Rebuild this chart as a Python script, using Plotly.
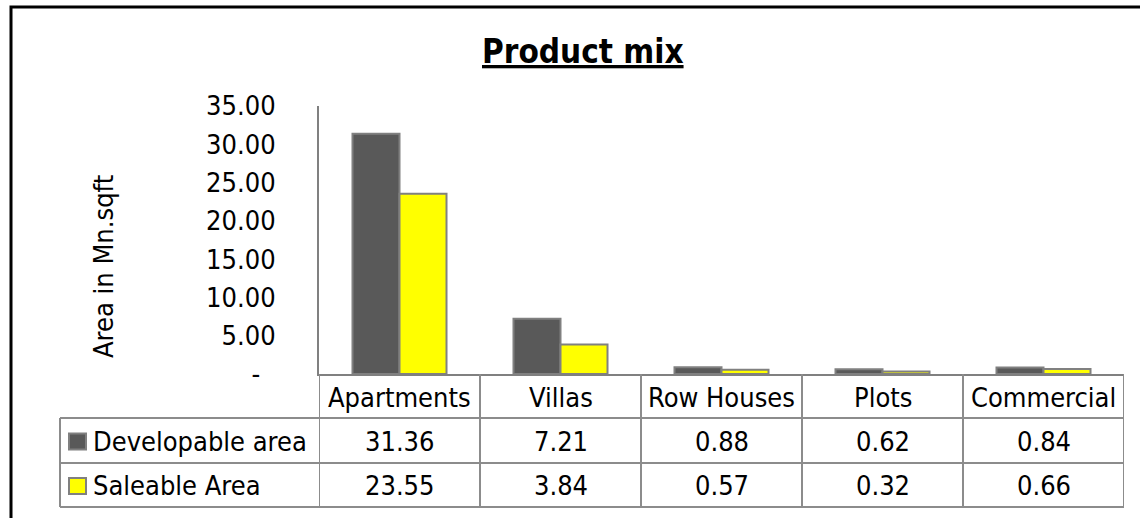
import plotly.graph_objects as go

# Product mix data (area in Mn.sqft)
categories = ["Apartments", "Villas", "Row Houses", "Plots", "Commercial"]
developable = [31.36, 7.21, 0.88, 0.62, 0.84]
saleable = [23.55, 3.84, 0.57, 0.32, 0.66]
series_names = ["Developable area", "Saleable Area"]
y_ticks = [0, 5, 10, 15, 20, 25, 30, 35]
y_tick_text = ["-\u00a0\u00a0", "5.00", "10.00", "15.00", "20.00", "25.00", "30.00", "35.00"]

W, H = 1140, 518
L, R, T, B = 319, 16, 106, 144
PW, PH = W - L - R, H - T - B

FONT = "DejaVu Sans Condensed, DejaVu Sans, sans-serif"
FS = 27
DARK = "#595959"
YELLOW = "#FFFF00"
EDGE = "#808080"
GRID = "#8c8c8c"


def px_x(px):
    return (px - L) / PW


def px_y(py):
    return (H - B - py) / PH


fig = go.Figure()
for name, vals, col in [(series_names[0], developable, DARK), (series_names[1], saleable, YELLOW)]:
    fig.add_trace(go.Bar(
        x=list(range(len(categories))), y=vals, name=name,
        marker=dict(color=col, line=dict(color=EDGE, width=2)),
        showlegend=False, hoverinfo="skip",
    ))

shapes = []
annotations = []


def label(x, y, text, xref="paper", xanchor="center", size=FS, angle=0):
    annotations.append(dict(x=x, y=y, xref=xref, yref="paper", text=text,
                            xanchor=xanchor, yanchor="middle", textangle=angle,
                            showarrow=False,
                            font=dict(family=FONT, size=size, color="black")))


# data table rows (pixel rows below the axis)
row_top = [374, 418, 463]
row_bot = [418, 463, 507]
legend_left = 60

# horizontal rules
for py in [418, 463, 507]:
    shapes.append(dict(type="line", xref="paper", yref="paper",
                       x0=px_x(legend_left), x1=1, y0=px_y(py), y1=px_y(py),
                       line=dict(color=GRID, width=2)))
# vertical rules between category columns
for i in range(len(categories) + 1):
    shapes.append(dict(type="line", xref="x", yref="paper",
                       x0=i - 0.5, x1=i - 0.5, y0=px_y(374), y1=px_y(507),
                       line=dict(color=GRID, width=2)))
# legend column left edge
shapes.append(dict(type="line", xref="paper", yref="paper",
                   x0=px_x(legend_left), x1=px_x(legend_left), y0=px_y(418), y1=px_y(507),
                   line=dict(color=GRID, width=2)))

# header row: category names
for i, c in enumerate(categories):
    label(i, px_y(397), c, xref="x")

# value rows with legend keys
for r, (name, vals, col) in enumerate([(series_names[0], developable, DARK),
                                       (series_names[1], saleable, YELLOW)]):
    cy = (row_top[r + 1] + row_bot[r + 1]) / 2
    for i, v in enumerate(vals):
        label(i, px_y(cy + 1), f"{v:.2f}", xref="x")
    shapes.append(dict(type="rect", xref="paper", yref="paper",
                       x0=px_x(69), x1=px_x(86), y0=px_y(cy + 1 - 8), y1=px_y(cy + 1 + 8),
                       fillcolor=col, line=dict(color=EDGE, width=2)))
    label(px_x(91), px_y(cy + 1), name, xanchor="left")

# chart frame
shapes.append(dict(type="rect", xref="paper", yref="paper",
                   x0=px_x(11), x1=px_x(1160), y0=px_y(540), y1=px_y(7),
                   line=dict(color="black", width=3), fillcolor="rgba(0,0,0,0)"))

# title
label(px_x(583), px_y(52), "<b><u>Product mix</u></b>", size=33)

# y axis title
label(px_x(103), px_y(267), "Area in Mn.sqft", angle=-90)

fig.update_layout(
    width=W, height=H,
    margin=dict(l=L, r=R, t=T, b=B, pad=0),
    paper_bgcolor="white", plot_bgcolor="white",
    barmode="group", bargap=0.416, bargroupgap=0,
    shapes=shapes, annotations=annotations,
    xaxis=dict(range=[-0.5, len(categories) - 0.5], showticklabels=False, ticks="",
               showgrid=False, zeroline=False, showline=True, linecolor=EDGE, linewidth=2,
               fixedrange=True),
    yaxis=dict(range=[0, 35], tickvals=y_ticks, ticktext=y_tick_text, ticks="",
               showgrid=False, zeroline=False, showline=True, linecolor=EDGE, linewidth=2,
               ticklabelstandoff=36, tickfont=dict(family=FONT, size=FS, color="black"),
               fixedrange=True),
)

fig.write_html("out.html")
